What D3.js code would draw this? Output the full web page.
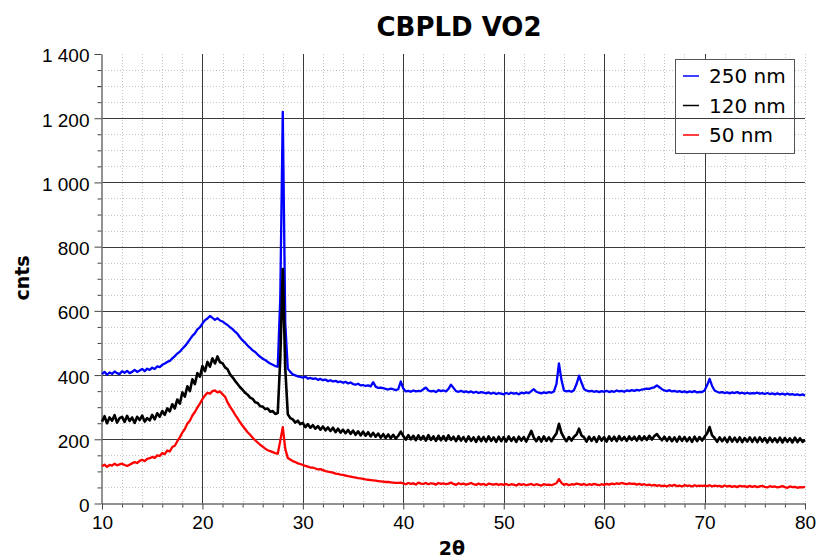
<!DOCTYPE html>
<html>
<head>
<meta charset="utf-8">
<script src="https://cdn.jsdelivr.net/npm/d3@7"></script>
<style>
  body { margin: 0; background: #fff; }
  svg { display: block; font-family: "DejaVu Sans", Verdana, sans-serif; }
</style>
</head>
<body>
<svg id="chart" width="817" height="559"></svg>
<script>
// scan settings (2theta start / step in degrees)
var twoThetaStart = 10, twoThetaStep = 0.25

// counts per step, 10.00 .. 80.00 deg, 20 values a row (5 deg)
var counts250 = [
  403,410,401,408,404,411,406,403,412,407,413,406,410,416,410,414,419,412,420,416,
  423,419,427,425,432,436,441,444,452,459,467,473,482,490,500,511,522,530,542,549,
  560,571,576,584,578,572,577,570,567,561,556,549,543,535,528,517,508,501,492,485,
  477,472,464,457,451,447,441,436,432,428,426,640,1220,560,420,410,402,399,396,394,
  392,395,389,391,388,390,385,388,384,386,381,384,380,382,378,380,376,379,374,377,
  372,370,373,368,369,366,368,365,378,364,360,361,359,357,355,358,356,353,356,380,
  358,349,351,348,352,349,351,350,356,361,352,349,351,347,353,350,352,349,357,370,
  360,350,348,351,347,349,346,349,345,348,344,347,345,343,346,342,345,341,344,342,
  340,344,341,345,342,344,340,345,343,346,344,350,356,348,345,343,346,344,347,345,
  349,372,436,385,352,349,351,348,353,372,398,376,356,352,349,351,348,350,347,350,
  348,351,347,350,348,352,349,351,348,352,350,353,351,354,352,355,356,358,357,360,
  362,368,362,356,352,350,353,349,351,348,350,347,349,346,349,347,350,346,348,347,
  352,368,388,366,352,348,345,347,344,346,343,346,344,347,343,345,342,345,342,344,
  343,345,342,344,341,344,341,343,340,343,340,342,339,342,339,341,338,340,337,340,
  336
]

var counts120 = [
  255,272,250,268,258,275,252,266,270,254,273,257,268,251,270,260,274,255,266,259,
  276,262,281,270,288,276,296,287,309,296,324,311,346,333,365,350,387,372,406,395,
  428,412,441,426,452,436,458,440,437,424,418,402,393,382,372,362,354,345,339,330,
  326,315,313,303,302,294,296,286,288,279,282,450,730,420,278,266,262,252,258,247,
  251,238,247,236,244,233,241,230,240,228,237,226,236,222,233,221,230,219,229,217,
  227,214,225,212,224,211,222,209,220,208,218,205,216,204,215,203,214,202,211,224,
  210,199,213,200,211,197,212,199,210,196,213,198,209,195,211,197,210,196,212,198,
  208,194,210,196,207,193,209,195,206,192,208,194,207,193,209,195,206,192,208,194,
  207,193,209,195,206,192,208,196,207,193,210,226,205,194,207,193,209,195,206,194,
  207,218,248,220,205,194,207,196,208,215,233,212,206,193,208,195,207,192,209,196,
  207,193,209,196,208,194,210,197,207,195,209,198,208,196,210,197,209,198,211,199,
  210,216,206,197,208,195,207,194,206,193,208,195,207,194,206,192,208,194,207,196,
  208,218,238,212,204,192,206,194,205,191,207,193,205,192,206,191,204,193,206,192,
  205,191,206,193,204,190,205,192,203,191,205,190,204,192,203,190,205,191,203,192,
  198
]

var counts50 = [
  116,121,114,120,118,124,119,122,124,120,117,121,125,129,126,133,136,132,139,141,
  145,142,150,148,157,154,165,162,176,180,194,206,221,232,249,258,274,285,299,311,
  325,336,345,342,350,352,346,349,340,333,315,302,290,277,265,253,242,232,222,214,
  205,197,190,183,177,171,166,163,160,157,155,195,238,170,142,137,132,129,125,123,
  120,117,115,112,112,109,106,107,104,101,99,98,96,93,92,90,89,87,85,84,
  82,81,79,78,77,75,74,73,72,71,70,69,68,67,67,66,65,64,64,65,
  63,60,64,61,63,59,65,62,61,64,60,63,62,59,64,61,63,60,62,65,
  61,58,63,60,62,59,61,64,60,58,62,59,61,57,62,60,59,61,58,60,
  58,61,57,60,59,56,61,58,60,57,59,61,57,60,58,56,60,58,59,57,
  60,63,76,64,58,61,57,60,59,62,60,58,61,57,60,58,61,59,57,60,
  58,61,59,62,60,63,61,64,62,60,63,61,62,59,61,58,60,57,59,56,
  58,55,57,54,56,53,57,55,58,54,56,53,57,55,56,53,57,54,56,55,
  56,54,57,53,56,54,55,52,56,53,55,52,54,51,55,53,54,51,55,52,
  54,51,53,55,52,50,54,52,53,50,52,54,51,49,53,51,52,49,51,50,
  52
]

var seriesNames = ["250 nm", "120 nm", "50 nm"]
var seriesColors = ["#0000ff", "#000000", "#ff0000"]
var seriesWidths = [2.3, 2.6, 2.3]

var xTicks = [10, 20, 30, 40, 50, 60, 70, 80]
var yTicks = [0, 200, 400, 600, 800, 1000, 1200, 1400]

var svg = d3.select("#chart")

var x = d3.scaleLinear()
    .domain([10, 80])
    .range([102, 805])

var y = d3.scaleLinear()
    .domain([0, 1400])
    .range([503.5, 54])

var fmt = d3.formatLocale({decimal: ".", thousands: " ", grouping: [3], currency: ["", ""]}).format(",d")

var xMinor = d3.range(12, 80.1, 2).filter(d => d % 10 != 0)
var yMinor = d3.range(50, 1400, 50).filter(d => d % 200 != 0)

// minor dotted grid
var grid = svg.append("g")
grid.selectAll(".vmin")
  .data(xMinor.concat([80]))
  .enter().append("line")
  .attr("x1", d => Math.round(x(d)) + 0.5).attr("x2", d => Math.round(x(d)) + 0.5)
  .attr("y1", y(1400)).attr("y2", y(0))
  .attr("stroke", "#c4c4c4").attr("stroke-dasharray", "1,2")
grid.selectAll(".hmin")
  .data(yMinor.concat([1300]))
  .enter().append("line")
  .attr("y1", d => Math.round(y(d)) + 0.5).attr("y2", d => Math.round(y(d)) + 0.5)
  .attr("x1", x(10)).attr("x2", x(80))
  .attr("stroke", "#c4c4c4").attr("stroke-dasharray", "1,2")

// legend background (under major grid)
var lg = {x: 675, y: 59, w: 119, h: 94}
svg.append("rect")
  .attr("x", lg.x + 0.5).attr("y", lg.y + 0.5)
  .attr("width", lg.w).attr("height", lg.h)
  .attr("fill", "#fff")

// major grid
grid.selectAll(".vmaj")
  .data(xTicks.filter(d => d > 10 && d < 80))
  .enter().append("line")
  .attr("x1", d => Math.round(x(d)) + 0.5).attr("x2", d => Math.round(x(d)) + 0.5)
  .attr("y1", y(1400)).attr("y2", y(0))
  .attr("stroke", "#3a3a3a")
svg.append("g").selectAll("line")
  .data(yTicks.filter(d => d > 0 && d < 1400))
  .enter().append("line")
  .attr("y1", d => Math.round(y(d)) + 0.5).attr("y2", d => Math.round(y(d)) + 0.5)
  .attr("x1", x(10)).attr("x2", x(80))
  .attr("stroke", "#3a3a3a")

// axes
var yAxisMinor = svg.append("g")
  .attr("transform", "translate(101.5,0)")
  .call(d3.axisLeft(y).tickValues(yMinor.concat([1300])).tickSize(4).tickFormat(""))
var yAxis = svg.append("g")
  .attr("transform", "translate(101.5,0)")
  .call(d3.axisLeft(y).tickValues(yTicks).tickSize(7).tickSizeOuter(0).tickPadding(5).tickFormat(fmt))

var xAxisMinor = svg.append("g")
  .attr("transform", "translate(0," + (y(0)) + ")")
  .call(d3.axisBottom(x).tickValues(xMinor.concat([80])).tickSize(4).tickFormat(""))
var xAxis = svg.append("g")
  .attr("transform", "translate(0," + (y(0)) + ")")
  .call(d3.axisBottom(x).tickValues(xTicks).tickSize(6).tickSizeOuter(0).tickPadding(6))

svg.selectAll(".domain").attr("stroke", "#6e6e6e").attr("stroke-width", 1.5)
svg.selectAll(".tick line").attr("stroke", "#444")
yAxisMinor.select(".domain").remove()
xAxisMinor.select(".domain").remove()
yAxis.selectAll("text").attr("font-size", 19).attr("fill", "#000").attr("dy", "0.42em")
xAxis.selectAll("text").attr("font-size", 19).attr("fill", "#000")

// data lines
var series = [counts250, counts120, counts50]
var line = d3.line()
  .x((d, i) => x(twoThetaStart + i * twoThetaStep))
  .y(d => y(d))

svg.append("g").selectAll("path")
  .data(series)
  .enter().append("path")
  .attr("d", line)
  .attr("fill", "none")
  .attr("stroke", (d, i) => seriesColors[i])
  .attr("stroke-width", (d, i) => seriesWidths[i])
  .attr("stroke-linejoin", "round")

// legend
svg.append("rect")
  .attr("x", lg.x + 0.5).attr("y", lg.y + 0.5)
  .attr("width", lg.w).attr("height", lg.h)
  .attr("fill", "none").attr("stroke", "#555")

var legendItem = svg.append("g").selectAll("g")
  .data(seriesNames)
  .enter().append("g")
  .attr("transform", (d, i) => "translate(" + lg.x + "," + (76 + i * 29.5) + ")")
legendItem.append("line")
  .attr("x1", 8).attr("x2", 24)
  .attr("stroke", (d, i) => seriesColors[i]).attr("stroke-width", 1.5)
legendItem.append("text")
  .attr("x", 34).attr("dy", "0.36em")
  .attr("font-size", 20)
  .text(d => d)

// titles
svg.append("text")
  .attr("x", 459).attr("y", 36)
  .attr("text-anchor", "middle")
  .attr("font-size", 26).attr("font-weight", "bold")
  .text("CBPLD VO2")

svg.append("text")
  .attr("transform", "translate(29,278) rotate(-90)")
  .attr("text-anchor", "middle")
  .attr("font-size", 19).attr("font-weight", "bold")
  .text("cnts")

svg.append("text")
  .attr("x", 452).attr("y", 555)
  .attr("text-anchor", "middle")
  .attr("font-size", 19).attr("font-weight", "bold")
  .text("2θ")
</script>
</body>
</html>
